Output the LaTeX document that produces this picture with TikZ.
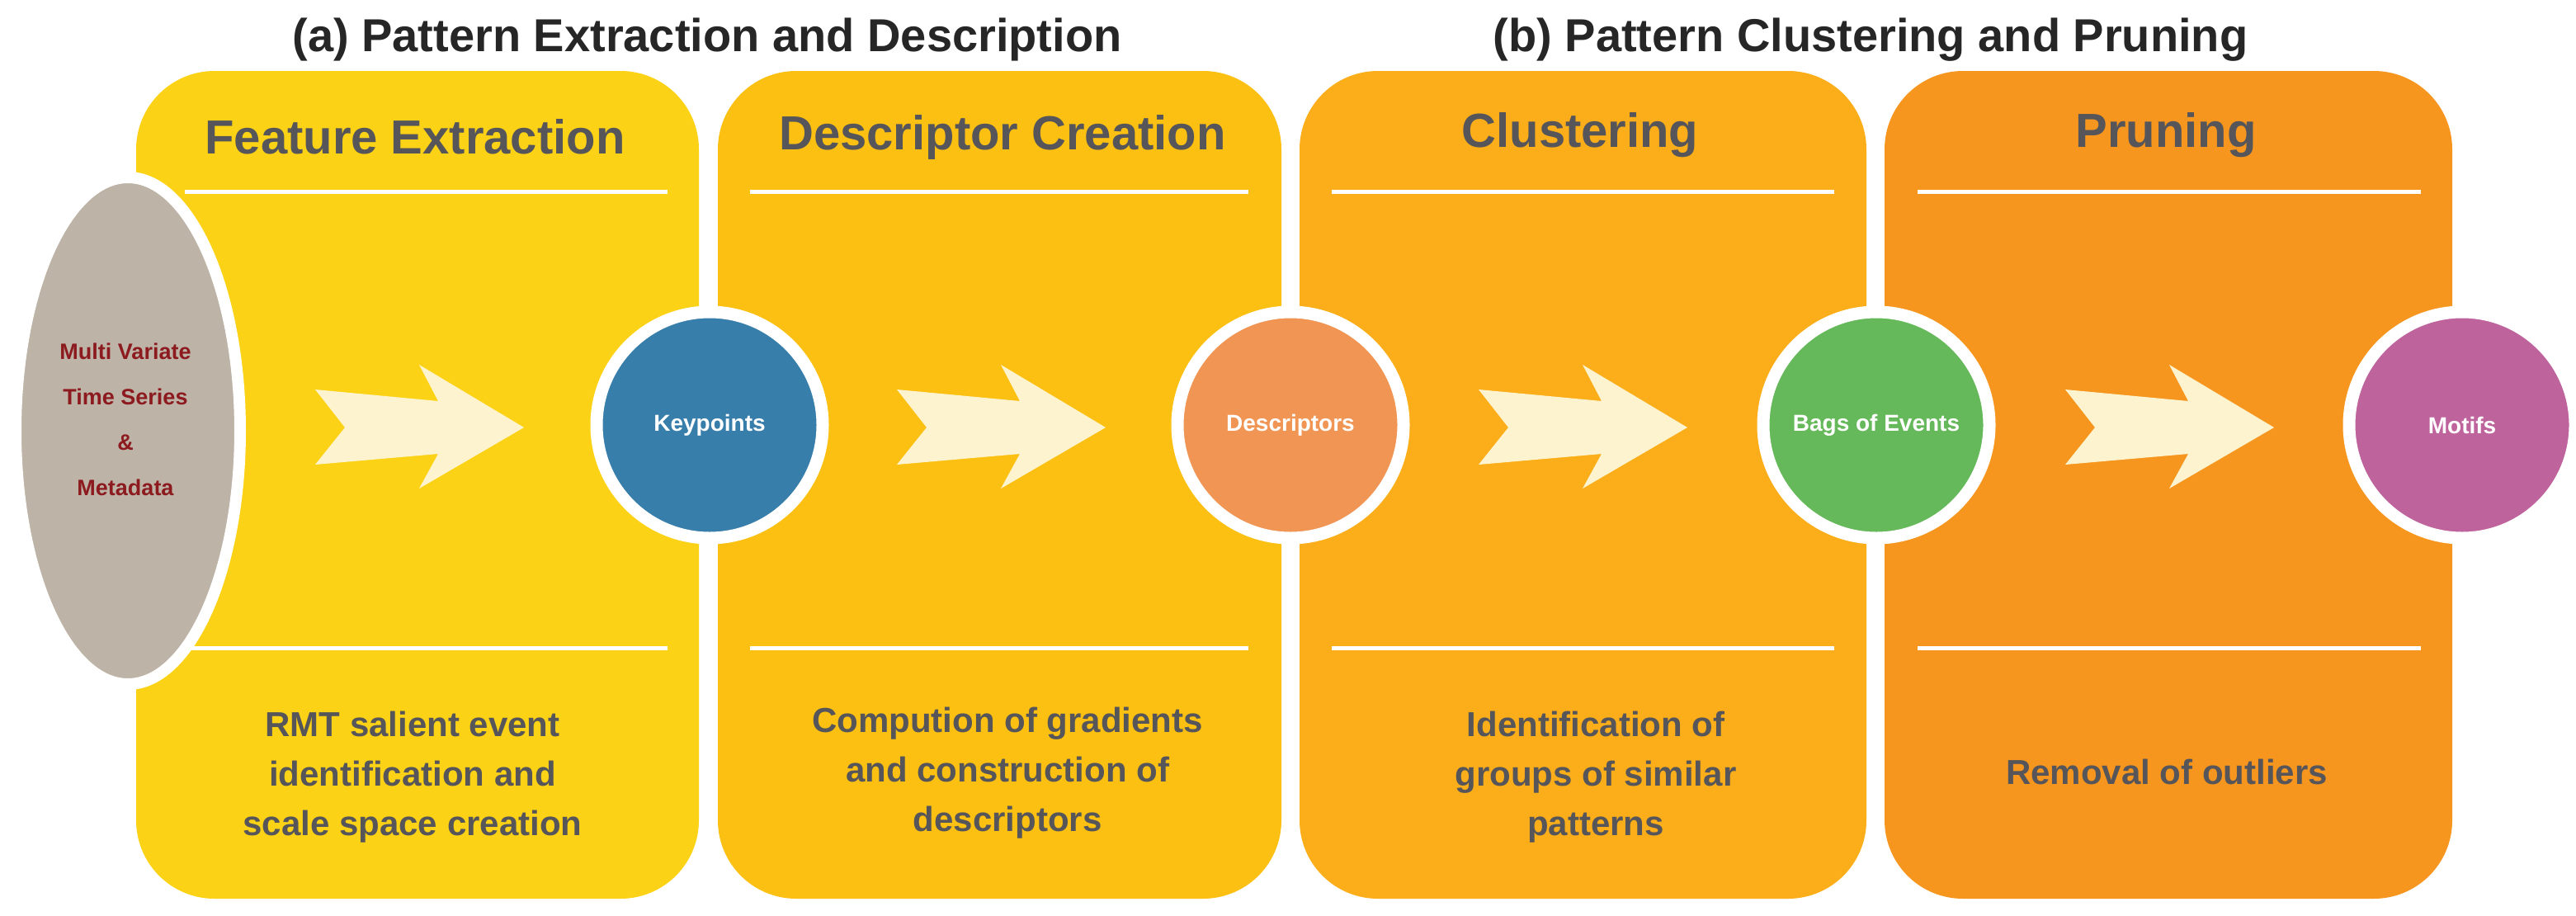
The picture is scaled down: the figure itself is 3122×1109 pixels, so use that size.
\documentclass[tikz,border=0pt]{standalone}
\usepackage{fontspec}
\setmainfont{Liberation Sans}
\usetikzlibrary{shapes.geometric}
\definecolor{pA}{RGB}{252,210,22}
\definecolor{pB}{RGB}{251,192,18}
\definecolor{pC}{RGB}{251,174,26}
\definecolor{pD}{RGB}{247,150,31}
\definecolor{txt}{RGB}{85,85,90}
\definecolor{arr}{RGB}{253,243,207}
\definecolor{grayE}{RGB}{189,179,166}
\definecolor{dred}{RGB}{140,26,30}
\definecolor{cKey}{RGB}{55,126,171}
\definecolor{cDes}{RGB}{240,149,83}
\definecolor{cBag}{RGB}{102,185,91}
\definecolor{cMot}{RGB}{191,99,157}
\begin{document}
\begin{tikzpicture}[x=1pt,y=-1pt,
  panel/.style={rounded corners=95pt},
  head/.style={font=\bfseries\fontsize{58}{62}\selectfont,text=txt},
  body/.style={font=\bfseries\fontsize{42}{60}\selectfont,text=txt,align=center},
  ttl/.style={font=\bfseries\fontsize{56}{60}\selectfont,text=black!85},
  sep/.style={draw=white,line width=5pt},
  hub/.style={circle,draw=white,line width=15pt,minimum size=274pt,inner sep=0pt,text=white,font=\bfseries\fontsize{28}{32}\selectfont},
  chev/.style={fill=arr}]
\useasboundingbox (0,0) rectangle (3122,1109);
\fill[white] (0,0) rectangle (3122,1109);
% panels
\fill[pA,panel] (165,86) rectangle (847,1089);
\fill[pB,panel] (870,86) rectangle (1553,1089);
\fill[pC,panel] (1575,86) rectangle (2262,1089);
\fill[pD,panel] (2284,86) rectangle (2972,1089);
% titles
\node[ttl] (ta) at (857,48) {(a) Pattern Extraction and Description};
\node[ttl] (tb) at (2267,48) {(b) Pattern Clustering and Pruning};
% headings
\node[head] (h1) at (503,166) {Feature Extraction};
\node[head] (h2) at (1215,166) {Descriptor Creation};
\node[head] (h3) at (1915,164) {Clustering};
\node[head] (h4) at (2625,164) {Pruning};
% separators
\foreach \a/\b in {224/809,909/1513,1614/2223,2324/2934}{
  \draw[sep] (\a,232) -- (\b,232);
  \draw[sep] (\a,785) -- (\b,785);
}
% chevrons
\foreach \s in {0,705,1410,2121}{
  \fill[chev,xshift=\s] (382,472) -- (531,486) -- (508,442) -- (635,518) -- (508,592) -- (531,550) -- (382,563) -- (418,518) -- cycle;
}
% input ellipse
\node[ellipse,draw=white,line width=14pt,fill=grayE,minimum width=272pt,minimum height=614pt,inner sep=0pt] (in) at (155,522) {};
\node[text=dred,font=\bfseries\fontsize{27}{55}\selectfont,align=center] (intxt) at (152,508) {Multi Variate\\Time Series\\\&\\Metadata};
% hubs
\node[hub,fill=cKey] (kp) at (860,515) {Keypoints};
\node[hub,fill=cDes] (ds) at (1564,515) {Descriptors};
\node[hub,fill=cBag] (bg) at (2274,515) {Bags of Events};
\node[hub,fill=cMot] (mt) at (2984,515) {Motifs};
% bottom texts
\node[body] (b1) at (500,942) {RMT salient event\\identification and\\scale space creation};
\node[body] (b2) at (1221,937) {Compution of gradients\\and construction of\\descriptors};
\node[body] (b3) at (1934,942) {Identification of\\groups of similar\\patterns};
\node[body] (b4) at (2626,935) {Removal of outliers};
\end{tikzpicture}
\end{document}
